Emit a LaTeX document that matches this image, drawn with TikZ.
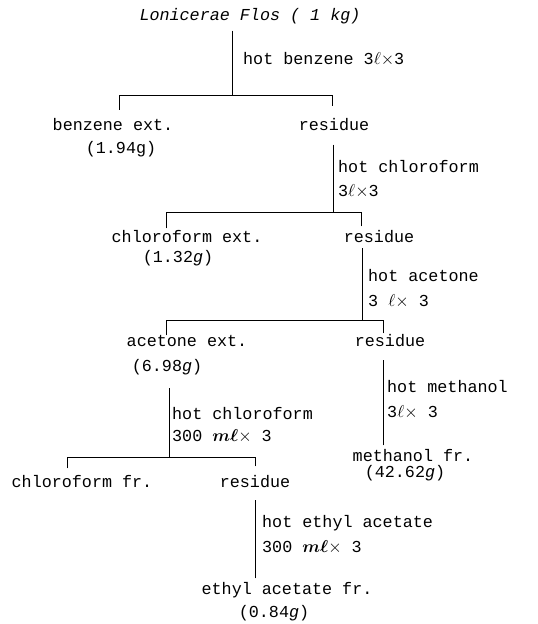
\documentclass[tikz,border=0pt]{standalone}
\usepackage{fontspec}
\usepackage{bm}
\setmonofont{Liberation Mono}
\begin{document}
\begin{tikzpicture}[x=1bp,y=-1bp,
  txt/.style={inner sep=0pt,font=\ttfamily\fontsize{16.8}{18}\selectfont,text height=11bp,text depth=3bp},
  lab/.style={txt,anchor=west},
  ln/.style={line width=0.9bp,line cap=rect}]
\useasboundingbox (0,0) rectangle (538,624);
% nodes
\node[txt] (title) at (250,17) {\itshape Lonicerae Flos ( 1 kg)};
\node[lab] (s1) at (243,61) {hot benzene 3$\ell{\times}$3};
\node[txt] (bz) at (113,127) {benzene ext.};
\node[txt] (bzw) at (121,150) {(1.94g)};
\node[txt] (r1) at (334,127) {residue};
\node[lab] (s2a) at (338,169) {hot chloroform};
\node[lab] (s2b) at (338,192) {3$\ell{\times}$3};
\node[txt] (cf) at (187,238) {chloroform ext.};
\node[txt] (cfw) at (178,258) {(1.32\textit{g})};
\node[txt] (r2) at (379,238) {residue};
\node[lab] (s3a) at (368,277) {hot acetone};
\node[lab] (s3b) at (368,302) {3 $\ell{\times}$ 3};
\node[txt] (ac) at (187,342) {acetone ext.};
\node[txt] (acw) at (167,367) {(6.98\textit{g})};
\node[txt] (r3) at (390,342) {residue};
\node[lab] (s4a) at (387,388) {hot methanol};
\node[lab] (s4b) at (387,413) {3$\ell{\times}$ 3};
\node[txt] (me) at (413,457) {methanol fr.};
\node[txt] (mew) at (405,473) {(42.62\textit{g})};
\node[lab] (s5a) at (172,415) {hot chloroform};
\node[lab] (s5b) at (172,437) {300 $\bm{m\ell}{\times}$ 3};
\node[txt] (cff) at (82,483) {chloroform fr.};
\node[txt] (r4) at (255,483) {residue};
\node[lab] (s6a) at (262,523) {hot ethyl acetate};
\node[lab] (s6b) at (262,548) {300 $\bm{m\ell}{\times}$ 3};
\node[txt] (ea) at (287,590) {ethyl acetate fr.};
\node[txt] (eaw) at (274,613) {(0.84\textit{g})};
% junction coordinates
\coordinate (t0) at (232,31);  \coordinate (j1) at (232,95);
\coordinate (j1l) at (119,95); \coordinate (j1r) at (332,95);
\coordinate (e1l) at (119,110); \coordinate (e1r) at (332,106);
\coordinate (t1) at (333,145); \coordinate (j2) at (333,212);
\coordinate (j2l) at (166,212); \coordinate (j2r) at (361,212);
\coordinate (e2l) at (166,228); \coordinate (e2r) at (361,226);
\coordinate (t2) at (362,248); \coordinate (j3) at (362,320);
\coordinate (j3l) at (166,320); \coordinate (j3r) at (383,320);
\coordinate (e3l) at (166,335); \coordinate (e3r) at (383,333);
\coordinate (t3) at (383,360); \coordinate (e4) at (383,445);
\coordinate (t4) at (169,388); \coordinate (j5) at (169,457);
\coordinate (j5l) at (67,457); \coordinate (j5r) at (255,457);
\coordinate (e5l) at (67,468); \coordinate (e5r) at (255,466);
\coordinate (t5) at (255,500); \coordinate (e6) at (255,578);
% connectors
\draw[ln] (t0) -- (j1);
\draw[ln] (e1l) -- (j1l) -- (j1r) -- (e1r);
\draw[ln] (t1) -- (j2);
\draw[ln] (e2l) -- (j2l) -- (j2r) -- (e2r);
\draw[ln] (t2) -- (j3);
\draw[ln] (e3l) -- (j3l) -- (j3r) -- (e3r);
\draw[ln] (t3) -- (e4);
\draw[ln] (t4) -- (j5);
\draw[ln] (e5l) -- (j5l) -- (j5r) -- (e5r);
\draw[ln] (t5) -- (e6);
\end{tikzpicture}
\end{document}
